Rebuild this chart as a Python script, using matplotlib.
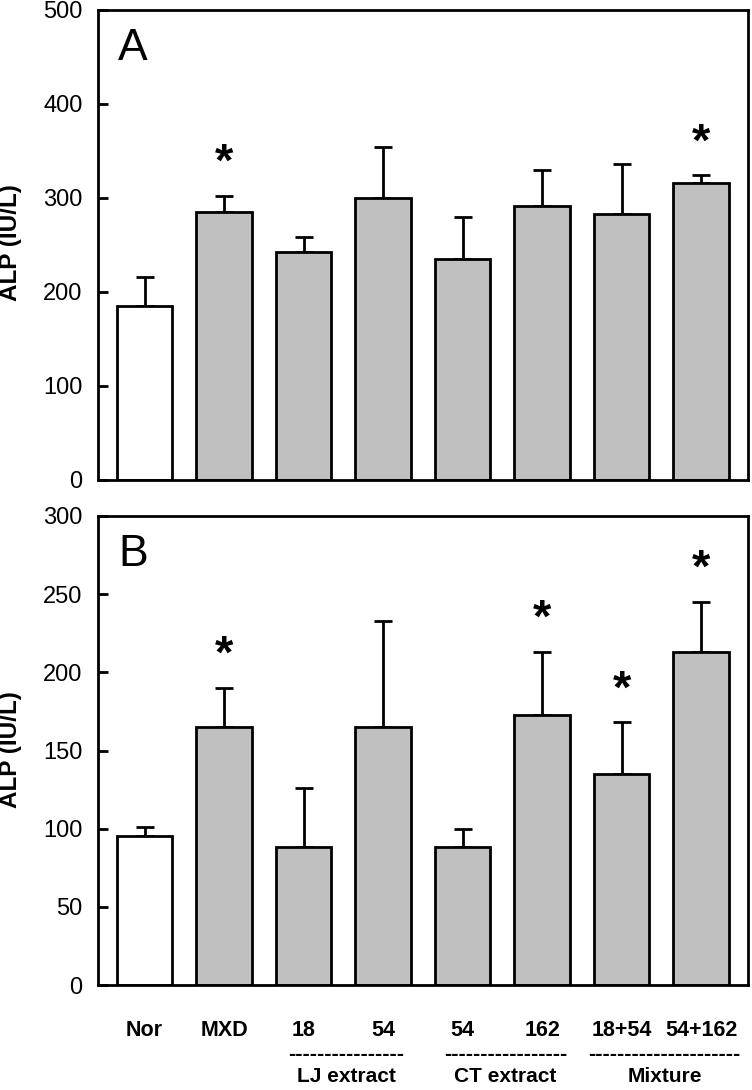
import matplotlib
matplotlib.use("Agg")
import matplotlib.pyplot as plt
import matplotlib.transforms as mtransforms

categories = ["Nor", "MXD", "18", "54", "54", "162", "18+54", "54+162"]
groups = ["LJ extract", "CT extract", "Mixture"]
group_members = [(2, 3), (4, 5), (6, 7)]
dash_counts = [16, 17, 21]

a_means = [185, 285, 243, 300, 235, 292, 283, 316]
a_err = [31, 17, 16, 54, 45, 38, 53, 8]
a_sig = [False, True, False, False, False, False, False, True]

b_means = [95, 165, 88, 165, 88, 173, 135, 213]
b_err = [6, 25, 38, 68, 12, 40, 33, 32]
b_sig = [False, True, False, False, False, True, True, True]

colors = ["white"] + ["#c0c0c0"] * 7

plt.rcParams["font.family"] = ["Liberation Sans", "DejaVu Sans"]

fig = plt.figure(figsize=(7.52, 10.90), dpi=100)
W, H = 752, 1090
axA = fig.add_axes([98 / W, 1 - 480 / H, 650 / W, 470 / H])
axB = fig.add_axes([98 / W, 1 - 985 / H, 650 / W, 469 / H])

x = list(range(len(categories)))


def draw(ax, means, errs, sig, ymax, step, letter, yc):
    ax.bar(x, means, width=0.70, color=colors, edgecolor="black", linewidth=2, zorder=2)
    ax.errorbar(x, means, yerr=[[0] * len(errs), errs], fmt="none", ecolor="black",
                elinewidth=2, capsize=6.5, capthick=2, zorder=1)
    for xi, m, e, s in zip(x, means, errs, sig):
        if s:
            ax.annotate("*", (xi, m + e), xytext=(0, 23), textcoords="offset points",
                        ha="center", va="center", fontsize=34, fontweight="bold")
    ax.set_xlim(-0.585, 7.59)
    ax.set_ylim(0, ymax)
    ax.set_yticks(range(0, ymax + 1, step))
    ax.set_xticks([])
    ax.tick_params(axis="y", direction="in", length=7, width=2, labelsize=17, pad=11)
    for sp in ax.spines.values():
        sp.set_linewidth(2)
    fig.text(11 / W, yc, "ALP (IU/L)", rotation=90, ha="center", va="center",
             fontsize=17.5, fontweight="bold")
    ax.text(0.031, 0.962, letter, transform=ax.transAxes, fontsize=32,
            ha="left", va="top")


draw(axA, a_means, a_err, a_sig, 500, 100, "A", 1 - 243 / H)
draw(axB, b_means, b_err, b_sig, 300, 50, "B", 1 - 750 / H)

trans = mtransforms.blended_transform_factory(axB.transData, fig.transFigure)
for xi, c in zip(x, categories):
    fig.text(xi, 1 - 1031 / H, c, transform=trans, ha="center", va="center",
             fontsize=15.5, fontweight="bold")

for (i0, i1), g, n in zip(group_members, groups, dash_counts):
    xc = (i0 + i1) / 2 + 0.04
    fig.text(xc, 1 - 1055 / H, "-" * n, transform=trans, ha="center", va="center",
             fontsize=15.5, fontweight="bold")
    fig.text(xc, 1 - 1076 / H, g, transform=trans, ha="center", va="center",
             fontsize=15, fontweight="bold")

fig.savefig("out.png", dpi=100)
